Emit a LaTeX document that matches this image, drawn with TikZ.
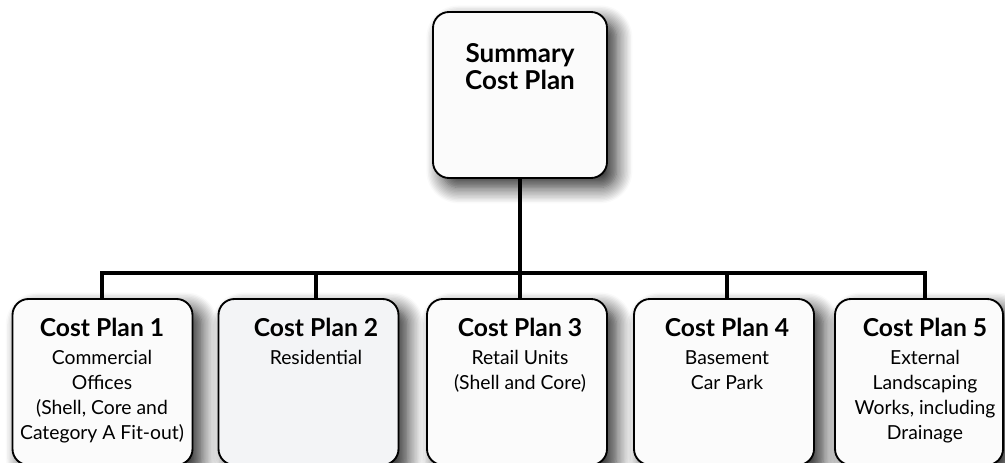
\documentclass[tikz,border=0pt]{standalone}
\usepackage{fontspec}
\setmainfont{Lato}
\usetikzlibrary{positioning,shadows.blur}
\definecolor{boxfill}{HTML}{FBFBFB}
\definecolor{boxgrey}{HTML}{F3F4F6}
\tikzset{
    plan/.style={draw=black,line width=1.4pt,rounded corners=12pt,fill=boxfill,inner sep=0pt,minimum width=135pt,minimum height=124.5pt,
        blur shadow={shadow xshift=7pt,shadow yshift=-7pt,shadow blur radius=12pt,shadow opacity=85,shadow blur steps=12}},
    label/.style={inner sep=0pt,anchor=north,align=center,font=\fontsize{14.5}{18.75}\selectfont},
}

\begin{document}
\begin{tikzpicture}[x=0.75pt,y=-0.75pt,link/.style={line width=3.6pt}]
        \useasboundingbox (0,0) rectangle (1005,463);

        % boxes
        \node[plan,minimum width=130.5pt] (sum) at (520,95) {};
        \node[plan] (cp1) at (102.5,382) {};
        \node[plan,fill=boxgrey] (cp2) at (308.5,382) {};
        \node[plan] (cp3) at (517,382) {};
        \node[plan] (cp4) at (724,382) {};
        \node[plan,minimum width=126pt] (cp5) at (919,382) {};

        % texts
        \node[label,font=\bfseries\fontsize{19.5}{20.25}\selectfont] (sumt) at (520,43) {Summary\\Cost Plan};
        \node[label] (l1) at (102,318) {{\bfseries\fontsize{18.5}{21}\selectfont Cost Plan 1}\\[2.25pt]Commercial\\Offices\\(Shell, Core and\\Category A Fit-out)};
        \node[label] (l2) at (316,318) {{\bfseries\fontsize{18.5}{21}\selectfont Cost Plan 2}\\[2.25pt]Residential};
        \node[label] (l3) at (520,318) {{\bfseries\fontsize{18.5}{21}\selectfont Cost Plan 3}\\[2.25pt]Retail Units\\(Shell and Core)};
        \node[label] (l4) at (727,318) {{\bfseries\fontsize{18.5}{21}\selectfont Cost Plan 4}\\[2.25pt]Basement\\Car Park};
        \node[label] (l5) at (925,318) {{\bfseries\fontsize{18.5}{21}\selectfont Cost Plan 5}\\[2.25pt]External\\Landscaping\\Works, including\\Drainage};

        % connectors
        \coordinate (bar) at (520,273);
        \draw[link] (sum.south) -- (bar);
        \draw[link] (cp1.north -| l1) |- (bar) -| (cp5.north -| l5);
        \foreach \i in {2,3,4}
            \draw[link] (bar -| l\i) -- (cp\i.north -| l\i);
\end{tikzpicture}
\end{document}
